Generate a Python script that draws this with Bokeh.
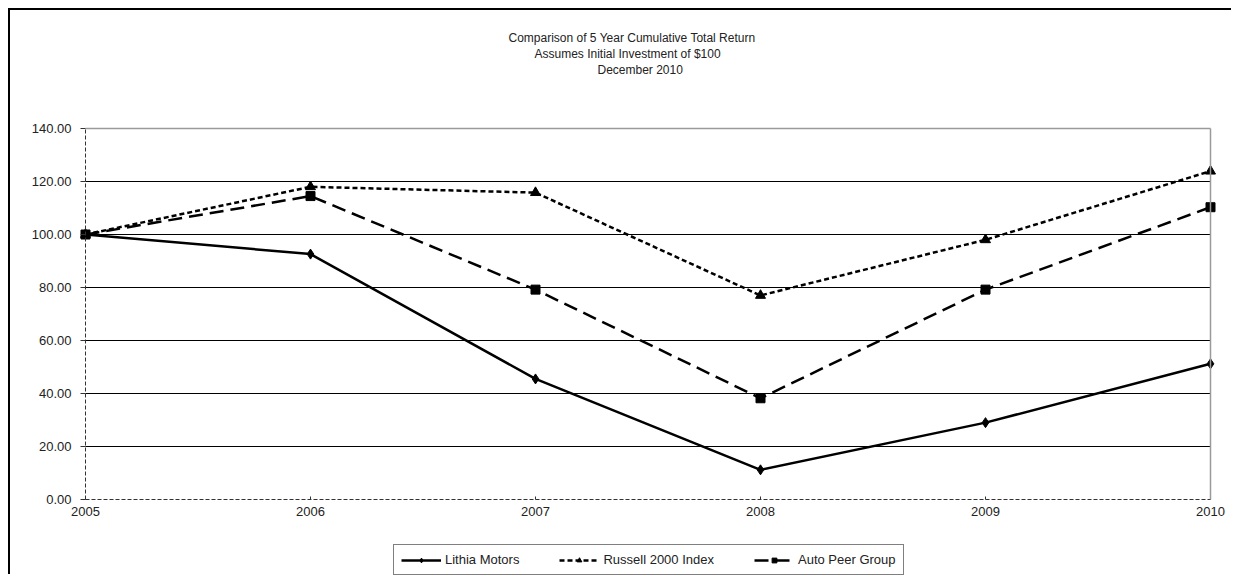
from bokeh.plotting import figure
from bokeh.models import (FixedTicker, NumeralTickFormatter, Title, Legend, LegendItem,
                          Range1d, LinearAxis)
from bokeh.embed import file_html
from bokeh.resources import INLINE

years = [2005, 2006, 2007, 2008, 2009, 2010]
lithia = [100.0, 92.6, 45.5, 11.2, 29.0, 51.2]
russell = [100.0, 118.0, 115.8, 77.0, 98.0, 123.9]
auto_peer = [100.0, 114.5, 79.2, 38.2, 79.2, 110.3]
y_ticks = [0, 20, 40, 60, 80, 100, 120, 140]
title_lines = ["Comparison of 5 Year Cumulative Total Return",
               "Assumes Initial Investment of $100",
               "December 2010"]
series_names = ["Lithia Motors", "Russell 2000 Index", "Auto Peer Group"]

FONT = "Liberation Sans"
TXT = "#222222"
W, H = 1223, 566

# layout (canvas pixels)
LEFT, RIGHT_EDGE = 75, 1200          # x of first / last year
ZERO_Y, TOP_Y = 489, 118             # y of 0 and 140
FRAME_TOP, FRAME_BOTTOM = 68, H
ppx = (RIGHT_EDGE - LEFT) / (years[-1] - years[0])
ppu = (ZERO_Y - TOP_Y) / (y_ticks[-1] - y_ticks[0])
x_start = years[0] - LEFT / ppx
x_end = years[-1] + (W - RIGHT_EDGE) / ppx
y_start = y_ticks[0] - (FRAME_BOTTOM - ZERO_Y) / ppu
y_end = y_ticks[0] + (ZERO_Y - FRAME_TOP) / ppu

p = figure(width=W, height=H, output_backend="svg", toolbar_location=None,
           x_range=Range1d(x_start, x_end), y_range=Range1d(y_start, y_end),
           min_border_left=0, min_border_right=0,
           min_border_top=FRAME_TOP, min_border_bottom=0)
p.outline_line_color = None
p.background_fill_color = "white"
p.border_fill_color = "white"
p.styles = {"margin-left": "8px", "margin-top": "8px",
            "border-left": "2px solid black", "border-top": "2px solid black"}
p.xgrid.grid_line_color = None
p.ygrid.grid_line_color = None

# horizontal grid lines between first and last year
grid_vals = y_ticks[1:-1]
p.segment(x0=[years[0]] * len(grid_vals), x1=[years[-1]] * len(grid_vals),
          y0=grid_vals, y1=grid_vals, line_color="#000000", line_width=1)
p.segment(x0=[years[0]], x1=[years[-1]], y0=[y_ticks[-1]], y1=[y_ticks[-1]],
          line_color="#9a9a9a", line_width=1.5)

# axes
p.xaxis.ticker = FixedTicker(ticks=years)
p.xaxis.fixed_location = y_ticks[0]
p.xaxis.bounds = (years[0], years[-1])
p.yaxis.ticker = FixedTicker(ticks=y_ticks)
p.yaxis.fixed_location = years[0]
p.yaxis.bounds = (y_ticks[0], y_ticks[-1])
p.yaxis.formatter = NumeralTickFormatter(format="0.00")
for ax in (p.xaxis[0], p.yaxis[0]):
    ax.axis_line_color = "#333333"
    ax.axis_line_dash = "4 2"
    ax.axis_line_width = 1
    ax.major_tick_line_color = "#333333"
    ax.minor_tick_line_color = None
    ax.major_label_text_font = FONT
    ax.major_label_text_font_size = "13px"
    ax.major_label_text_color = TXT
p.xaxis.major_tick_in = 3
p.xaxis.major_tick_out = 0
p.xaxis.major_label_standoff = 7
p.yaxis.major_tick_in = 0
p.yaxis.major_tick_out = 5
p.yaxis.major_label_standoff = 9

# right frame edge (0..140 only)
right_edge = LinearAxis(ticker=FixedTicker(ticks=[]), bounds=(y_ticks[0], y_ticks[-1]),
                        fixed_location=years[-1],
                        axis_line_color="#9a9a9a", axis_line_width=1.5,
                        major_tick_line_color=None, minor_tick_line_color=None)
p.add_layout(right_edge, "right")

# series
l1 = p.line(years, lithia, line_color="black", line_width=2.5)
m1 = p.scatter(years, lithia, marker="diamond", size=10, fill_color="black", line_color="black")
l2 = p.line(years, russell, line_color="black", line_width=2.5, line_dash="5 3")
m2 = p.scatter(years, russell, marker="triangle", size=10, fill_color="black", line_color="black")
l3 = p.line(years, auto_peer, line_color="black", line_width=2.5, line_dash="14 7")
m3 = p.scatter(years, auto_peer, marker="square", size=9, fill_color="black", line_color="black")

legend = Legend(items=[LegendItem(label=series_names[0], renderers=[l1, m1]),
                       LegendItem(label=series_names[1], renderers=[l2, m2]),
                       LegendItem(label=series_names[2], renderers=[l3, m3])],
                orientation="horizontal", location=(383, 1),
                border_line_color="black", border_line_width=1,
                background_fill_alpha=1, background_fill_color="white",
                label_text_font=FONT, label_text_font_size="13px", label_text_color=TXT,
                glyph_width=40, glyph_height=12, label_height=12, label_standoff=4,
                spacing=40, padding=7, margin=0)
p.add_layout(legend, "center")

# title lines (nearest to the frame added first), left aligned with offsets
offsets = [498, 524, 587]
for t, off in reversed(list(zip(title_lines, offsets))):
    p.add_layout(Title(text=t, align="left", vertical_align="top", offset=off,
                       standoff=0, text_font=FONT, text_font_size="12px",
                       text_font_style="normal", text_color=TXT), "above")

open("out.html", "w").write(file_html(p, INLINE))
